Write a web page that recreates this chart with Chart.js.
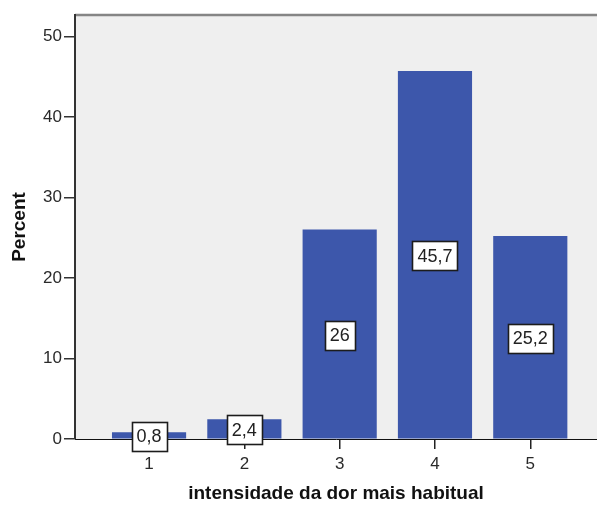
<!DOCTYPE html>
<html>
<head>
<meta charset="utf-8">
<script src="https://cdn.jsdelivr.net/npm/chart.js@4/dist/chart.umd.min.js"></script>
<style>
  html, body { margin: 0; padding: 0; background: #ffffff; }
  #wrap { width: 597px; height: 505px; }
</style>
</head>
<body>
<div id="wrap"><canvas id="c" width="597" height="505"></canvas></div>
<script>
// Pain intensity categories and their percentage of respondents
const categories = [1, 2, 3, 4, 5];
const percentValues = [0.8, 2.4, 26, 45.7, 25.2];
const yTickValues = [0, 10, 20, 30, 40, 50];

const FONT = "'Liberation Sans', Arial, sans-serif";
const BAR_COLOR = '#3d57ab';

const points = categories.map((c, i) => ({ x: c, y: percentValues[i] }));

// Grey plotting panel with a darker frame line on top
const panelPlugin = {
  id: 'panel',
  beforeDraw(chart) {
    const { ctx, chartArea: a } = chart;
    ctx.save();
    ctx.fillStyle = '#ffffff';
    ctx.fillRect(0, 0, chart.width, chart.height);
    ctx.fillStyle = '#efefef';
    ctx.fillRect(a.left, a.top, a.right - a.left, a.bottom - a.top);
    ctx.strokeStyle = '#858585';
    ctx.lineWidth = 2.5;
    ctx.beginPath();
    ctx.moveTo(a.left, a.top);
    ctx.lineTo(a.right, a.top);
    ctx.stroke();
    ctx.restore();
  }
};

// Boxed value labels centred on each bar
const valueBoxPlugin = {
  id: 'valueBoxes',
  afterDatasetsDraw(chart) {
    const { ctx } = chart;
    const meta = chart.getDatasetMeta(0);
    ctx.save();
    ctx.font = '18px ' + FONT;
    ctx.textAlign = 'center';
    ctx.textBaseline = 'middle';
    meta.data.forEach((bar, i) => {
      const text = String(percentValues[i]).replace('.', ',');
      const cy = (bar.y + bar.base) / 2 + 1;
      const w = Math.round(ctx.measureText(text).width + 10);
      const h = 29;
      const x0 = Math.round(bar.x - w / 2) + 0.5;
      const y0 = Math.round(cy - h / 2) + 0.5;
      ctx.fillStyle = '#ffffff';
      ctx.fillRect(x0, y0, w, h);
      ctx.strokeStyle = '#1c1c1c';
      ctx.lineWidth = 1.6;
      ctx.strokeRect(x0, y0, w, h);
      ctx.fillStyle = '#222222';
      ctx.fillText(text, bar.x, cy + 1);
    });
    ctx.restore();
  }
};

new Chart(document.getElementById('c'), {
  type: 'bar',
  data: {
    datasets: [{
      data: points,
      backgroundColor: BAR_COLOR,
      borderWidth: 0,
      barThickness: 73.5
    }]
  },
  options: {
    responsive: false,
    animation: false,
    layout: { padding: { top: 15, right: 0, left: 0, bottom: 0 } },
    plugins: {
      legend: { display: false },
      tooltip: { enabled: false }
    },
    scales: {
      x: {
        type: 'linear',
        min: 0.223,
        max: 5.70,
        offset: false,
        afterBuildTicks(scale) {
          scale.ticks = categories.map(v => ({ value: v }));
        },
        afterFit(scale) { scale.height = 66; },
        grid: {
          offset: false,
          drawOnChartArea: false,
          drawTicks: true,
          tickLength: 10,
          color: '#222222',
          lineWidth: 1.5
        },
        border: { display: true, color: '#111111', width: 1 },
        ticks: {
          padding: 5,
          color: '#2a2a2a',
          font: { family: FONT, size: 17 },
          callback: v => String(v)
        },
        title: {
          display: true,
          text: 'intensidade da dor mais habitual',
          color: '#111111',
          font: { family: FONT, size: 19, weight: 'bold' },
          padding: { top: 0, bottom: 0 }
        }
      },
      y: {
        min: 0,
        max: 52.7,
        afterBuildTicks(scale) {
          scale.ticks = yTickValues.map(v => ({ value: v }));
        },
        afterFit(scale) { scale.width = 75; },
        grid: {
          drawOnChartArea: false,
          drawTicks: true,
          tickLength: 11,
          color: '#333333',
          lineWidth: 1.5
        },
        border: { display: true, color: '#333333', width: 2 },
        ticks: {
          padding: 2,
          color: '#2a2a2a',
          font: { family: FONT, size: 17 },
          callback: v => String(v)
        },
        title: {
          display: true,
          text: 'Percent',
          color: '#111111',
          font: { family: FONT, size: 19, weight: 'bold' },
          padding: { top: 8, bottom: 0 }
        }
      }
    }
  },
  plugins: [panelPlugin, valueBoxPlugin]
});
</script>
</body>
</html>
